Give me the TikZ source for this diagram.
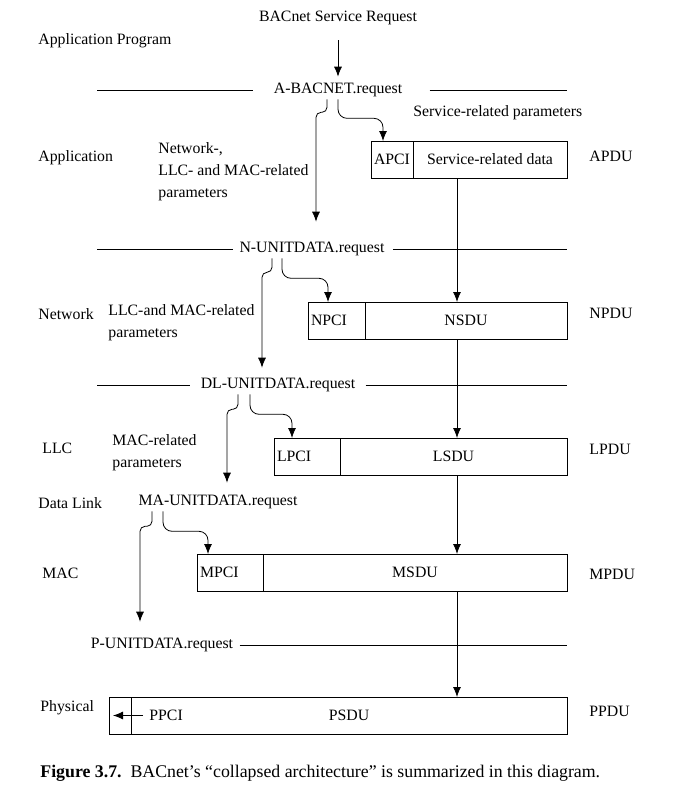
\documentclass[tikz,border=0pt]{standalone}
\usepackage{fontspec}
\setmainfont{Liberation Serif}
\usetikzlibrary{positioning,arrows.meta}

\begin{document}
\begin{tikzpicture}
[
  x=1pt, y=-1pt,
  >={Latex[length=10pt,width=8pt]},
  font=\fontsize{15.8}{22}\selectfont,
  line width=0.8pt,
  layer/.style={anchor=west, inner sep=0pt},
  params/.style={anchor=north west, inner sep=0pt, align=left},
  request/.style={inner sep=2pt},
  cell/.style={draw, outer sep=0pt, minimum height=37pt, inner sep=3pt},
  pci/.style={cell, anchor=north west, align=left},
  branch/.style={->, rounded corners=5pt},
  handoff/.style={->, rounded corners=9pt}
]
 \useasboundingbox (0,0) rectangle (673,795);
 \coordinate (lend) at (97,0);
 \coordinate (rend) at (567,0);
 \coordinate (col) at (457,0);

 % layers
 \node[layer] (lprog) at (38,41) {Application Program};
 \node[layer] (lapp) at (38,158) {Application};
 \node[layer] (lnet) at (38,314) {Network};
 \node[layer] (lllc) at (42,448) {LLC};
 \node[layer] (ldl) at (38,503) {Data Link};
 \node[layer] (lmac) at (42,573) {MAC};
 \node[layer] (lphy) at (40,708) {Physical};

 \node[layer] (napdu) at (589,156) {APDU};
 \node[layer] (nnpdu) at (589,313) {NPDU};
 \node[layer] (nlpdu) at (589,449) {LPDU};
 \node[layer] (nmpdu) at (589,574) {MPDU};
 \node[layer] (nppdu) at (589,711) {PPDU};

 % service primitives
 \node[request] (bsr) at (338,18) {BACnet Service Request};
 \node[request] (areq) at (338,90) {A-BACNET.request};
 \node[request] (nreq) at (312,249) {N-UNITDATA.request};
 \node[request] (dlreq) at (278,385) {DL-UNITDATA.request};
 \node[request] (mareq) at (218,502) {MA-UNITDATA.request};
 \node[request] (preq) at (162,645) {P-UNITDATA.request};

 \node[layer] (pserv) at (413,113) {Service-related parameters};
 \node[params] (pnet) at (158,142) {Network-,\\LLC- and MAC-related\\parameters};
 \node[params] (pllc) at (108,304) {LLC-and MAC-related\\parameters};
 \node[params] (pmac) at (112,434) {MAC-related\\parameters};

 % pdus
 \node[pci, minimum width=42pt] (apci) at (371,141) {APCI};
 \node[cell, minimum width=154pt, right=0pt of apci] (asdu) {Service-related data};
 \node[pci, text width=51pt] (npci) at (308,302) {NPCI};
 \node[cell, minimum width=202pt, right=0pt of npci] (nsdu) {NSDU};
 \node[pci, text width=60pt] (lpci) at (274,438) {LPCI};
 \node[cell, minimum width=227pt, right=0pt of lpci] (lsdu) {LSDU};
 \node[pci, text width=60pt] (mpci) at (197,554) {MPCI};
 \node[cell, minimum width=304pt, right=0pt of mpci] (msdu) {MSDU};
 \node[cell, anchor=north west, minimum width=22pt] (pgap) at (109,697) {};
 \node[cell, minimum width=436pt, right=0pt of pgap] (psdu) {PSDU};
 \node[request, right=16pt of pgap] (ppci) {PPCI};

 % primitive lines
 \draw (areq.west -| lend) -- ([xshift=-18pt]areq.west);
 \draw ([xshift=25pt]areq.east) -- (areq.east -| rend);
 \draw (nreq.west -| lend) -- ([xshift=-4pt]nreq.west);
 \draw ([xshift=6pt]nreq.east) -- (nreq.east -| rend);
 \draw (dlreq.west -| lend) -- ([xshift=-8pt]dlreq.west);
 \draw ([xshift=8pt]dlreq.east) -- (dlreq.east -| rend);
 \draw ([xshift=4pt]preq.east) -- (preq.east -| rend);

 % flow
 \draw[->] ([yshift=-13pt]bsr.south) -- ([yshift=4pt]areq.north);
 \path[->]
   (asdu.south -| col) edge (nsdu.north -| col)
   (nsdu.south -| col) edge (lsdu.north -| col)
   (lsdu.south -| col) edge (msdu.north -| col)
   (msdu.south -| col) edge (psdu.north -| col);
 \draw[->] ([xshift=-4pt]ppci.west) -- ([xshift=4pt]pgap.west);

 \draw[branch] ([xshift=-11pt]areq.south) -- ++(0,13) -| ([xshift=4pt,yshift=18pt]nreq.north);
 \draw[handoff] (areq.south) -- ++(0,19) -| ([xshift=-9pt]apci.north);
 \draw[branch] ([xshift=-40pt]nreq.south) -- ++(0,14) -| ([xshift=-16pt,yshift=8pt]dlreq.north);
 \draw[handoff] ([xshift=-30pt]nreq.south) -- ++(0,20) -| ([xshift=-8.5pt]npci.north);
 \draw[branch] ([xshift=-40pt]dlreq.south) -- ++(0,15) -| ([xshift=9pt,yshift=10pt]mareq.north);
 \draw[handoff] ([xshift=-28pt]dlreq.south) -- ++(0,20) -| ([xshift=-15pt]lpci.north);
 \draw[branch] ([xshift=-66pt]mareq.south) -- ++(0,15) -| ([xshift=-22pt,yshift=14pt]preq.north);
 \draw[handoff] ([xshift=-55pt]mareq.south) -- ++(0,20) -| ([xshift=-22pt]mpci.north);

 \node[layer] (caption) at (40,773) {\fontsize{17.8}{20}\selectfont\textbf{Figure 3.7.}\ \ BACnet’s “collapsed architecture” is summarized in this diagram.};
\end{tikzpicture}
\end{document}
